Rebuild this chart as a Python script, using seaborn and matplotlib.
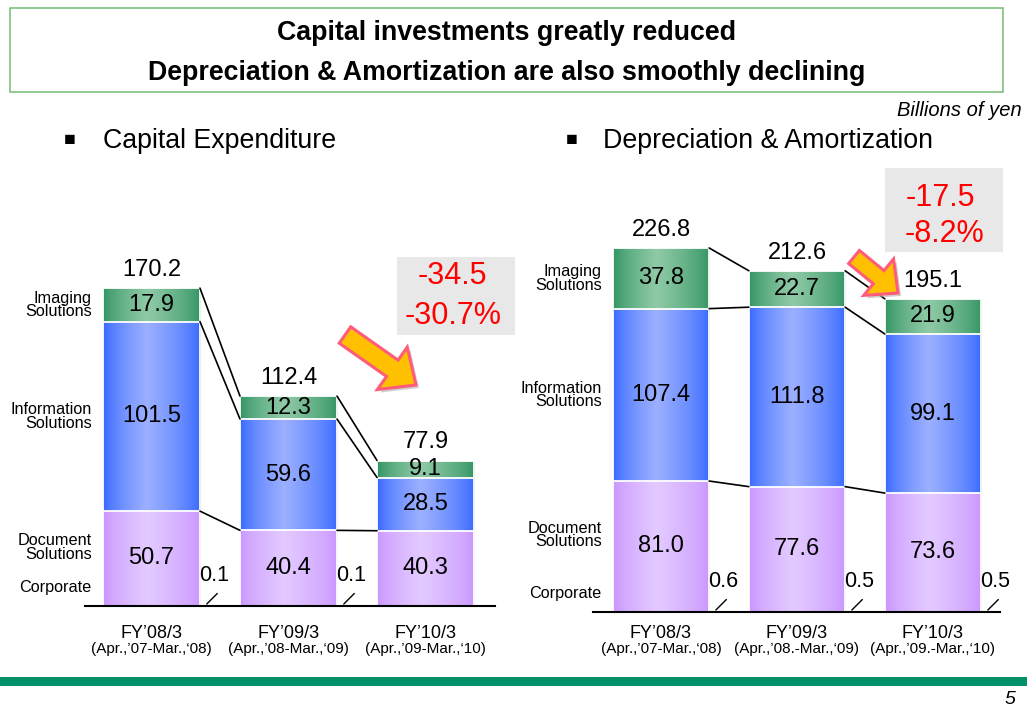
import numpy as np
import pandas as pd
import matplotlib
matplotlib.use("Agg")
import matplotlib.pyplot as plt
from matplotlib.colors import to_rgb
from matplotlib.patches import Rectangle, FancyArrow
from matplotlib.transforms import blended_transform_factory
import seaborn as sns

# ---- data (billions of yen) ----
years = ["FY\u201908/3", "FY\u201909/3", "FY\u201910/3"]
capex_periods = ["(Apr.,\u201907-Mar.,\u201808)", "(Apr.,\u201908-Mar.,\u201809)", "(Apr.,\u201909-Mar.,\u201810)"]
da_periods = ["(Apr.,\u201907-Mar.,\u201808)", "(Apr.,\u201908.-Mar.,\u201809)", "(Apr.,\u201909.-Mar.,\u201810)"]

capex_imaging = [17.9, 12.3, 9.1]
capex_info = [101.5, 59.6, 28.5]
capex_doc = [50.7, 40.4, 40.3]
capex_corp = [0.1, 0.1, 0.0]
capex_total = [170.2, 112.4, 77.9]

da_imaging = [37.8, 22.7, 21.9]
da_info = [107.4, 111.8, 99.1]
da_doc = [81.0, 77.6, 73.6]
da_corp = [0.6, 0.5, 0.5]
da_total = [226.8, 212.6, 195.1]

capex_change = ["-34.5", "-30.7%"]
da_change = ["-17.5", "-8.2%"]
segment_names = ["Imaging\nSolutions", "Information\nSolutions", "Document\nSolutions", "Corporate"]

GREEN = ("#2e9160", "#8fcaa6")
BLUE = ("#3366ff", "#9cb0ff")
PURPLE = ("#c894ff", "#e3caff")
W = 0.708

sns.set_style("white")
plt.rcParams["font.family"] = ["Liberation Sans", "DejaVu Sans"]
plt.rcParams["text.color"] = "black"

fig = plt.figure(figsize=(10.27, 7.15), dpi=100)


def px_axes(left, right, top, bottom):
    return fig.add_axes([left / 1027, 1 - bottom / 715, (right - left) / 1027, (bottom - top) / 715])


ax1 = px_axes(85, 495, 160, 606)
ax2 = px_axes(593, 1000, 160, 612)
over = fig.add_axes([0, 0, 1, 1], zorder=10)
over.set_xlim(0, 1027)
over.set_ylim(715, 0)
over.axis("off")
over.patch.set_alpha(0)


def shade(ax, patch, c_edge, c_mid, z):
    t = np.linspace(0, 1, 200)
    f = np.where(t < 0.45, t / 0.45, (1 - t) / 0.55)
    f = np.clip(f, 0, 1) ** 0.7
    e, m = np.array(to_rgb(c_edge)), np.array(to_rgb(c_mid))
    img = e + (m - e) * f[:, None]
    x0, y0 = patch.get_xy()
    im = ax.imshow(img[None], extent=[x0, x0 + patch.get_width(), y0, y0 + patch.get_height()],
                   aspect="auto", interpolation="bilinear", zorder=z)
    im.set_clip_path(patch)


def draw_panel(ax, imaging, info, doc, corp, total, periods, xlim, ymax):
    df = pd.DataFrame({"year": years, "imaging": imaging, "info": info,
                       "doc": doc, "corp": corp, "total": total})
    df["low"] = df["doc"] + df["corp"]
    df["mid"] = df["low"] + df["info"]
    df["top"] = df["mid"] + df["imaging"]

    layers = [("top", GREEN), ("mid", BLUE), ("low", PURPLE)]
    for k, (col, (c_edge, c_mid)) in enumerate(layers):
        n0 = len(ax.patches)
        sns.barplot(data=df, x="year", y=col, color=c_edge, saturation=1, width=W,
                    errorbar=None, ax=ax, linewidth=0)
        for p in list(ax.patches[n0:]):
            z = 2 + 2 * k
            p.set_zorder(z)
            shade(ax, p, c_edge, c_mid, z + 0.5)
            ax.add_patch(Rectangle(p.get_xy(), p.get_width(), p.get_height(), fill=False,
                                   edgecolor="white", lw=1.3, zorder=z + 0.7))

    # connector lines between the bars
    for col in ["top", "mid", "low"]:
        for i in range(len(df) - 1):
            ax.plot([i + W / 2, i + 1 - W / 2], [df[col][i], df[col][i + 1]],
                    color="black", lw=1.2, zorder=8)

    # segment values
    for i, r in df.iterrows():
        for bottom, h in [(r["mid"], r["imaging"]), (r["low"], r["info"]), (r["corp"], r["doc"])]:
            ax.text(i, bottom + h / 2, f"{h:.1f}", ha="center", va="center", fontsize=17, zorder=12)
        ax.annotate(f"{r['total']:.1f}", (i, r["top"]), xytext=(0, 13), textcoords="offset points",
                    ha="center", va="center", fontsize=17, zorder=12)
        if r["corp"] > 0:
            anchor = (i + W / 2 + 0.035, 0)
            ax.annotate(f"{r['corp']:.1f}", anchor, xytext=(7, 22),
                        textcoords="offset points", ha="center", va="center", fontsize=15.5,
                        zorder=12)
            # short leader line
            ax.annotate("", anchor, xytext=(9, 9), textcoords="offset points",
                        arrowprops=dict(arrowstyle="-", color="black", lw=1.0, shrinkA=0, shrinkB=2),
                        zorder=12)

    # segment names left of first bar
    r0 = df.iloc[0]
    name_y = [(r0["mid"] + r0["imaging"] / 2, 0), (r0["low"] + r0["info"] / 2, 0),
              (r0["corp"] + r0["doc"] / 2, 8), (0, 13)]
    for name, (y, dy) in zip(segment_names, name_y):
        ax.annotate(name, (-W / 2, y), xytext=(-8, dy), textcoords="offset points",
                    ha="right", va="center", fontsize=11.7, linespacing=0.88, zorder=12)

    # category labels
    tr = blended_transform_factory(ax.transData, over.transData)
    for i, (yr, per) in enumerate(zip(years, periods)):
        over.text(i, 634, yr, transform=tr, ha="center", va="center", fontsize=13)
        over.text(i, 649, per, transform=tr, ha="center", va="center", fontsize=11)

    ax.set_xlim(*xlim)
    ax.set_ylim(0, ymax)
    ax.set_xticks([])
    ax.set_yticks([])
    ax.set_xlabel("")
    ax.set_ylabel("")
    for s in ["left", "right", "top"]:
        ax.spines[s].set_visible(False)
    ax.spines["bottom"].set_color("black")
    ax.spines["bottom"].set_linewidth(1.5)
    ax.spines["bottom"].set_zorder(15)
    ax.patch.set_alpha(0)


draw_panel(ax1, capex_imaging, capex_info, capex_doc, capex_corp, capex_total,
           capex_periods, (-0.485, 2.507), 238.8)
draw_panel(ax2, da_imaging, da_info, da_doc, da_corp, da_total,
           da_periods, (-0.5, 2.493), 281.6)

# ---- slide decorations ----
over.add_patch(Rectangle((10, 8), 993, 84, fill=False, edgecolor="#80c080", lw=1.2))
over.text(507, 33, "Capital investments greatly reduced", ha="center", va="center",
          fontsize=19.3, fontweight="bold")
over.text(507, 73, "Depreciation & Amortization are also smoothly declining", ha="center",
          va="center", fontsize=19.3, fontweight="bold")
over.text(1022, 110, "Billions of yen", ha="right", va="center", fontsize=14.5, style="italic")

over.text(70, 141, "\u25a0", ha="center", va="center", fontsize=14)
over.text(103, 141, "Capital Expenditure", ha="left", va="center", fontsize=19.3)
over.text(572, 141, "\u25a0", ha="center", va="center", fontsize=14)
over.text(603, 141, "Depreciation & Amortization", ha="left", va="center", fontsize=19.3)

# change boxes
for (x0, y0, x1, y1), txt, pos in [((397, 257, 515, 335), capex_change, [(452, 276), (453, 316)]),
                                   ((885, 168, 1003, 252), da_change, [(940, 198), (945, 234)])]:
    over.add_patch(Rectangle((x0, y0), x1 - x0, y1 - y0, facecolor="#e8e8e8", edgecolor="none"))
    for t, (tx, ty) in zip(txt, pos):
        over.text(tx, ty, t, ha="center", va="center", fontsize=22, color="#ff0000")

# arrows: tail, tip, shaft width, head width, head length
for (tx, ty, hx, hy, w, hw, hl) in [(345, 335, 416, 385, 20, 52, 29), (854, 257, 898, 293, 17, 47, 25)]:
    over.add_patch(FancyArrow(tx + 3, ty + 3, hx - tx, hy - ty, width=w, head_width=hw,
                              head_length=hl, length_includes_head=True,
                              facecolor="#b0b0b0", edgecolor="none", alpha=0.6))
    over.add_patch(FancyArrow(tx, ty, hx - tx, hy - ty, width=w, head_width=hw,
                              head_length=hl, length_includes_head=True,
                              facecolor="#ffc000", edgecolor="#ff5c7a", lw=2.2))

over.add_patch(Rectangle((0, 677), 1027, 9, facecolor="#00906a", edgecolor="none"))
over.text(1010, 700, "5", ha="center", va="center", fontsize=14, style="italic")

fig.savefig("out.png", dpi=100)
